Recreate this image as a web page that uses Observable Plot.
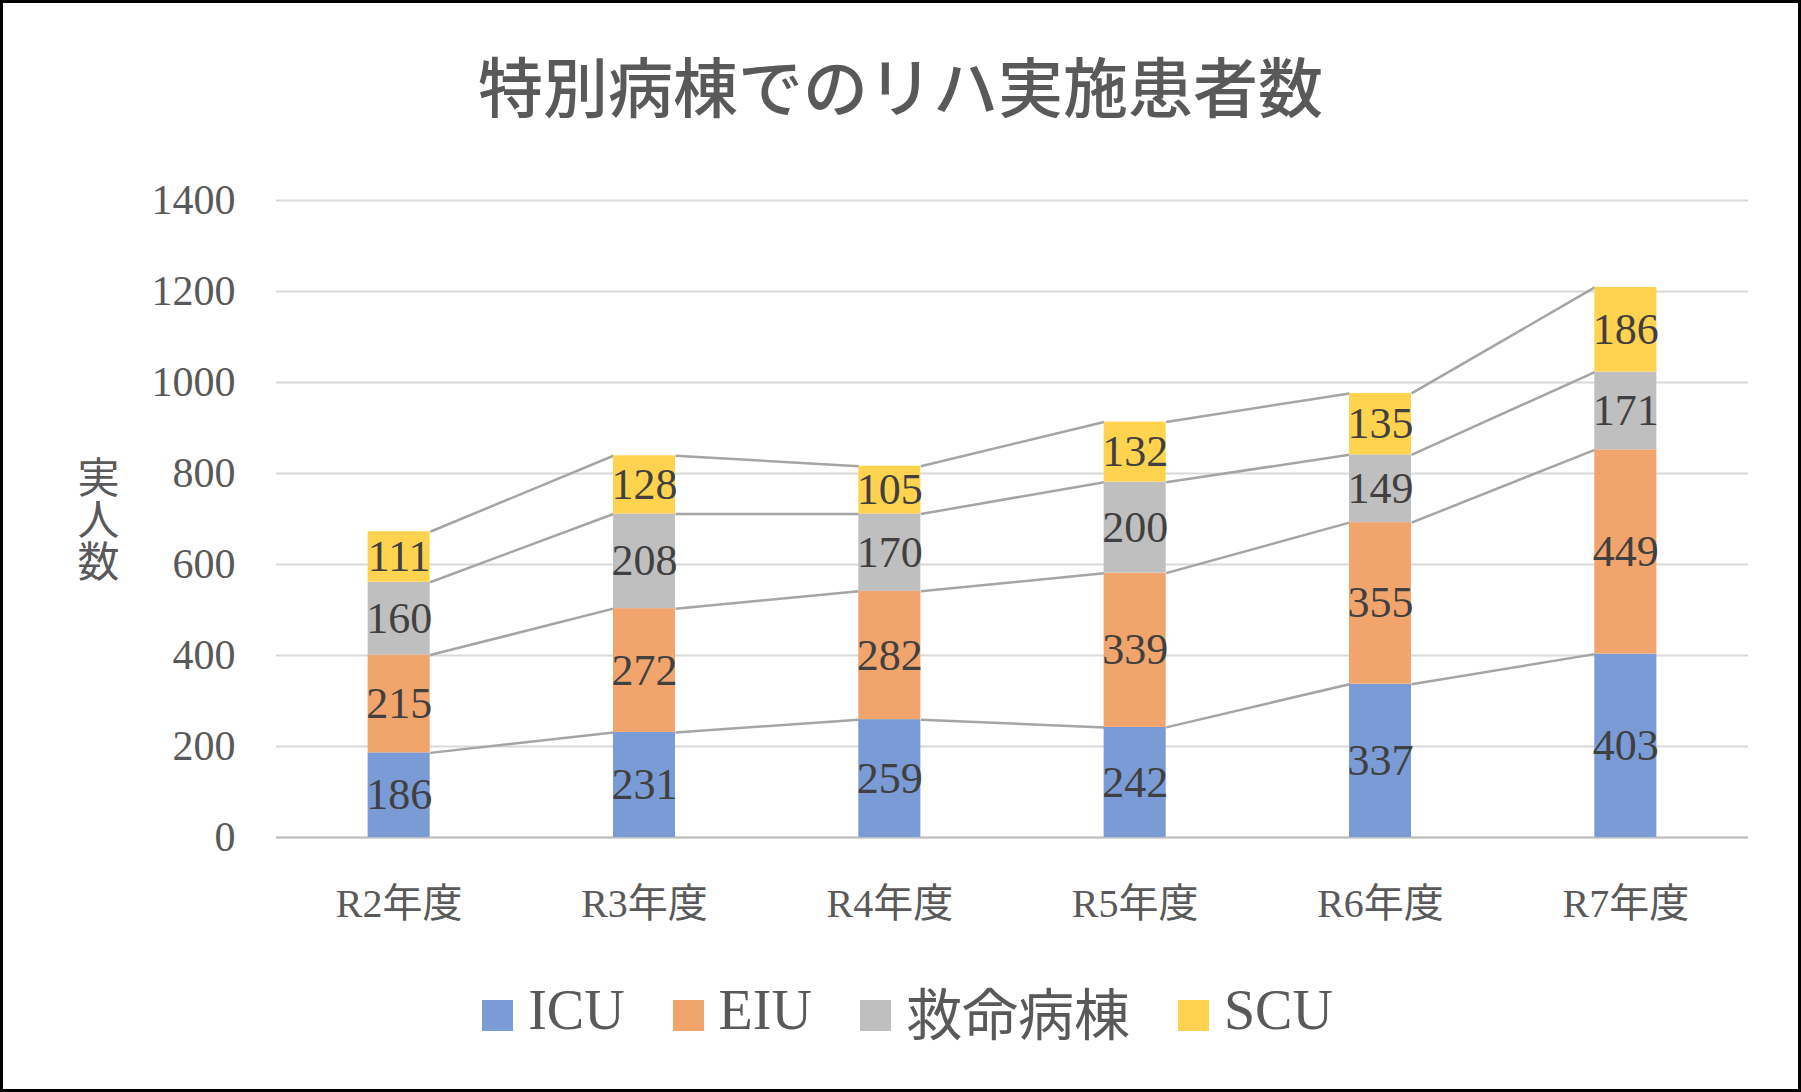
<!DOCTYPE html>
<html>
<head>
<meta charset="utf-8">
<script src="https://cdn.jsdelivr.net/npm/d3@7"></script>
<script src="https://cdn.jsdelivr.net/npm/@observablehq/plot@0.6"></script>
<style>
  body { margin: 0; background: #fff; }
  #frame {
    position: relative; width: 1801px; height: 1092px; overflow: hidden; background: #fff;
    font-family: "Liberation Serif", "Noto Sans CJK JP", serif;
  }
  #frame::after {
    content: ""; position: absolute; inset: 0; border: 3px solid #000; pointer-events: none;
  }
  #title {
    position: absolute; left: 0; right: 0; top: 52px; text-align: center;
    font-family: "Noto Sans CJK JP", sans-serif; font-size: 65px; line-height: 65px;
    font-weight: 500; color: #595959;
  }
  #ylabel {
    position: absolute; left: 77px; top: 456px; writing-mode: vertical-rl;
    font-family: "Noto Sans CJK JP", sans-serif; font-size: 42px; line-height: 42px; color: #595959;
  }
  #chart { position: absolute; left: 0; top: 0; }
  #legend {
    position: absolute; left: 14px; right: 0; top: 980px; height: 60px;
    display: flex; justify-content: center; align-items: center; gap: 48px;
    font-size: 56px; color: #595959;
  }
  .item { display: flex; align-items: center; gap: 15px; }
  .swatch { width: 31px; height: 31px; margin-top: 10px; }
</style>
</head>
<body>
<div id="frame">
  <div id="title">特別病棟でのリハ実施患者数</div>
  <div id="ylabel">実人数</div>
  <div id="chart"></div>
  <div id="legend"></div>
</div>
<script>
// Fiscal years on the x axis
const years = ["R2年度", "R3年度", "R4年度", "R5年度", "R6年度", "R7年度"];
// Ward series, bottom to top of each stack
const seriesNames = ["ICU", "EIU", "救命病棟", "SCU"];
const seriesColors = ["#7a9bd5", "#f1a56d", "#bfbfbf", "#ffd34f"];
// Patients per ward and year
const icu    = [186, 231, 259, 242, 337, 403];
const eiu    = [215, 272, 282, 339, 355, 449];
const kyumei = [160, 208, 170, 200, 149, 171];
const scu    = [111, 128, 105, 132, 135, 186];
// Value axis ticks
const yTicks = [0, 200, 400, 600, 800, 1000, 1200, 1400];

const seriesValues = [icu, eiu, kyumei, scu];
const halfBar = 0.1265; // half bar width, in year-index units

// Stacked segments
const segments = [];
years.forEach((year, i) => {
  let base = 0;
  seriesValues.forEach((vals, k) => {
    segments.push({ i, series: seriesNames[k], value: vals[i], y1: base, y2: base + vals[i] });
    base += vals[i];
  });
});
const topOf = (k, i) => segments[i * seriesNames.length + k].y2;

// Series lines joining the top of each segment to the next year's bar
const seriesLines = [];
seriesNames.forEach((name, k) => {
  for (let i = 0; i < years.length - 1; i++) {
    seriesLines.push({ x1: i + halfBar, x2: i + 1 - halfBar, y1: topOf(k, i), y2: topOf(k, i + 1) });
  }
});

const chart = Plot.plot({
  width: 1801,
  height: 960,
  marginLeft: 276,
  marginRight: 53,
  marginTop: 200,
  marginBottom: 123,
  x: { type: "linear", domain: [-0.5, years.length - 0.5] },
  y: { domain: [0, 1400] },
  color: { domain: seriesNames, range: seriesColors },
  style: {
    background: "transparent",
    color: "#595959",
    fontFamily: '"Liberation Serif", "Noto Sans CJK JP", serif',
    overflow: "visible"
  },
  marks: [
    Plot.gridY(yTicks, { stroke: "#d9d9d9", strokeOpacity: 1, strokeWidth: 2 }),
    Plot.axisY(yTicks, { tickSize: 0, tickPadding: 41, fontSize: 42, label: null, tickFormat: (d) => String(d) }),
    Plot.axisX(d3.range(years.length), {
      tickSize: 0, tickPadding: 51, fontSize: 40, label: null,
      tickFormat: (i) => years[i]
    }),
    Plot.ruleY([0], { stroke: "#bfbfbf", strokeWidth: 2 }),
    Plot.link(seriesLines, { x1: "x1", y1: "y1", x2: "x2", y2: "y2", stroke: "#a5a5a5", strokeWidth: 2.5 }),
    Plot.rect(segments, {
      x1: (d) => d.i - halfBar, x2: (d) => d.i + halfBar,
      y1: "y1", y2: "y2", fill: "series"
    }),
    Plot.text(segments, {
      x: "i", y: (d) => (d.y1 + d.y2) / 2, text: "value",
      fill: "#404040", fontSize: 44
    })
  ]
});
document.getElementById("chart").appendChild(chart);

// Legend
const legend = document.getElementById("legend");
seriesNames.forEach((name, k) => {
  const item = document.createElement("div");
  item.className = "item";
  const sw = document.createElement("div");
  sw.className = "swatch";
  sw.style.background = seriesColors[k];
  const label = document.createElement("span");
  label.textContent = name;
  item.append(sw, label);
  legend.appendChild(item);
});
</script>
</body>
</html>
